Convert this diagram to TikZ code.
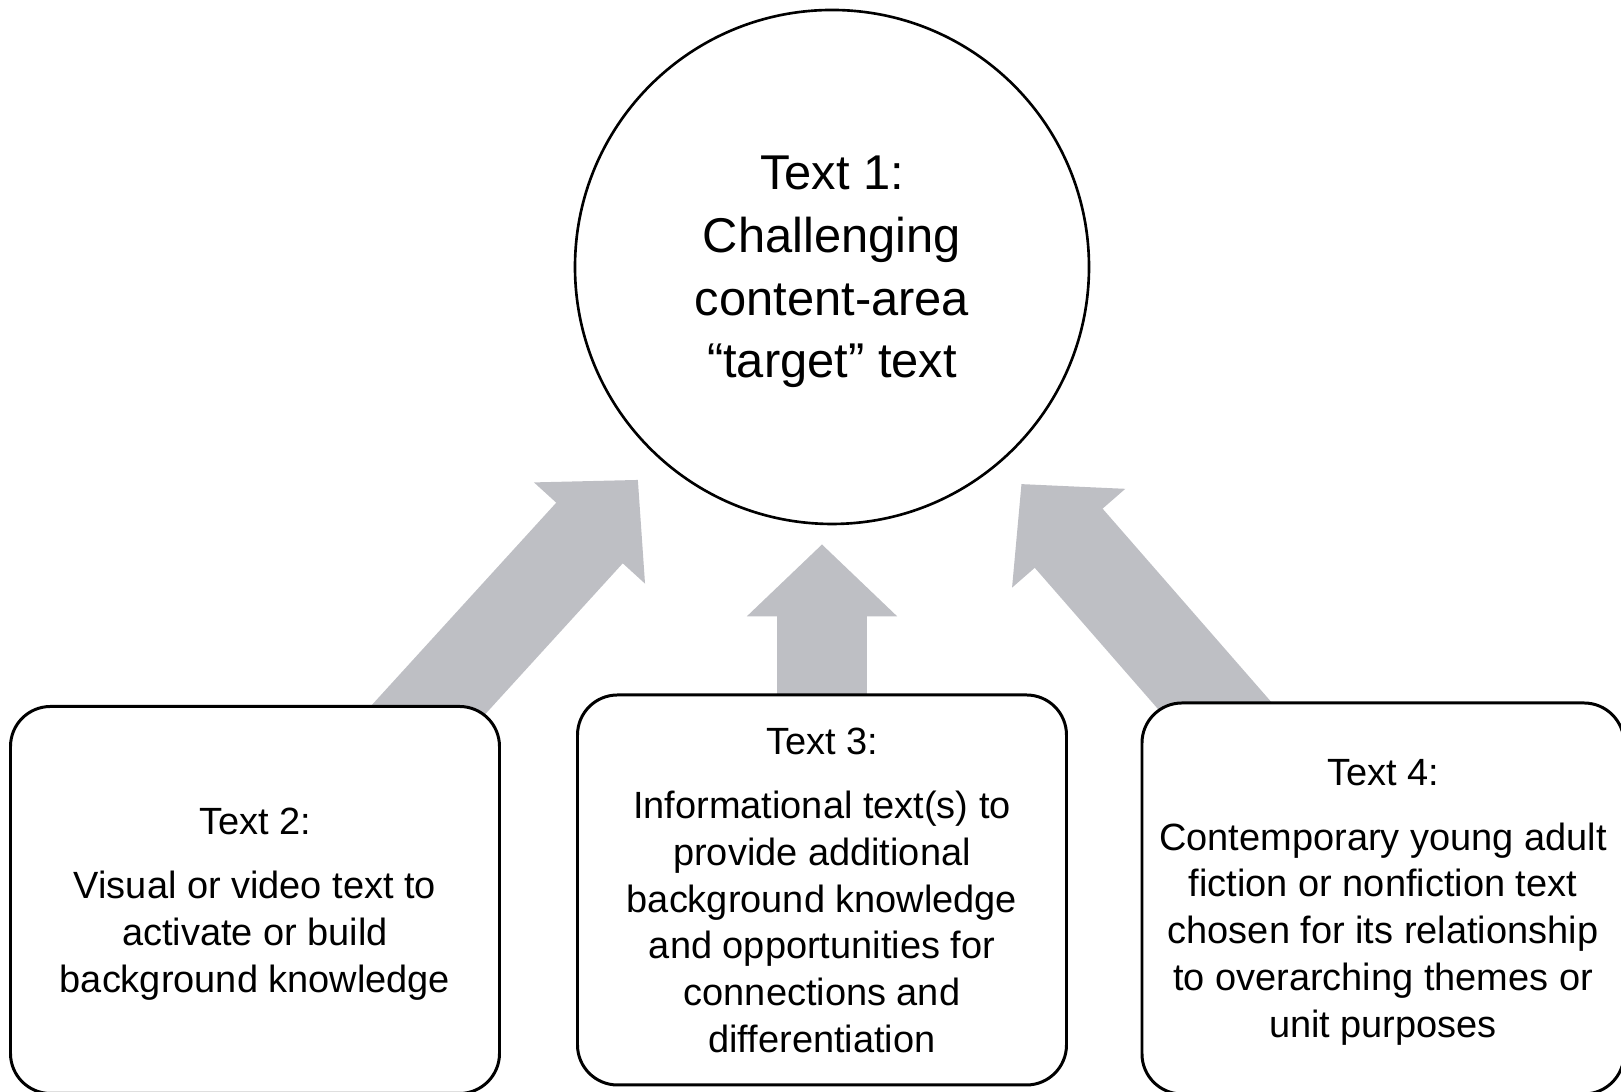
\documentclass[tikz,border=0pt]{standalone}
\usepackage{fontspec}
\setmainfont{Liberation Sans}
\usetikzlibrary{arrows.meta,calc,backgrounds}
\definecolor{arrowgray}{RGB}{190,191,196}

\begin{document}
\begin{tikzpicture}[x=1cm, y=1cm,
  target/.style={circle, draw, line width=0.75pt, minimum size=5.14cm, inner sep=0pt,
    text depth=0pt, align=center, font=\fontsize{13.9}{17.8}\selectfont},
  textbox/.style={draw, line width=0.85pt, rounded corners=0.4cm, fill=white,
    inner sep=0pt, text depth=0pt, align=center, font=\fontsize{10.8}{13.3}\selectfont},
  bigarrow/.style={arrowgray, line width=0.9cm, -{Triangle[width=1.46cm, length=0.72cm]}}]
\useasboundingbox (0,0) rectangle (16.21,10.92);
% =================== target text ===================
\node[target] (t1) at (8.32,8.25) {Text 1:\\Challenging\\content-area\\“target” text};
% =================== supporting texts ===================
\node[textbox, minimum width=4.89cm, minimum height=3.87cm] (t2) at (2.55,1.92)
  {Text 2:\\[5pt]Visual or video text to\\activate or build\\background knowledge};
\node[textbox, minimum width=4.89cm, minimum height=3.90cm] (t3) at (8.22,2.02)
  {Text 3:\\[5pt]Informational text(s) to\\provide additional\\background knowledge\\and opportunities for\\connections and\\differentiation};
\node[textbox, minimum width=4.82cm, minimum height=3.91cm] (t4) at (13.83,1.935)
  {Text 4:\\[5pt]Contemporary young adult\\fiction or nonfiction text\\chosen for its relationship\\to overarching themes or\\unit purposes};
% =================== arrows, behind the boxes ===================
\coordinate (h3) at ($(t1.south)+(0,-0.19)$);
\begin{scope}[on background layer]
  \draw[bigarrow] (t2.center) -- ($(t1.center)!2.88cm!(t2.center)$);
  \draw[bigarrow] (t3.center) -- (t3.center |- h3);
  \draw[bigarrow] (t4.center) -- ($(t1.center)!2.88cm!(t4.center)$);
\end{scope}
\end{tikzpicture}
\end{document}
